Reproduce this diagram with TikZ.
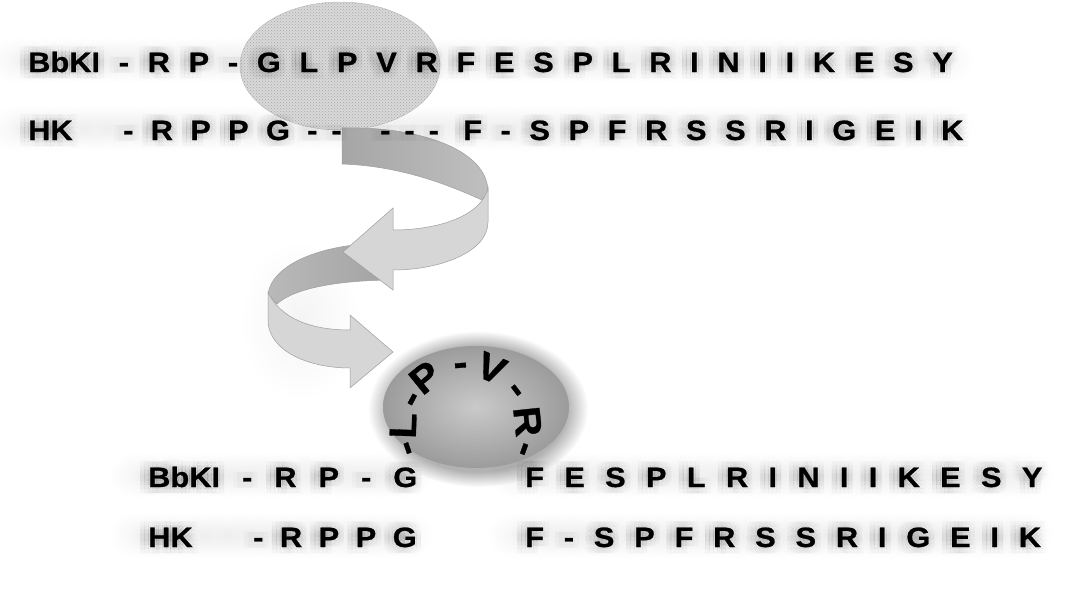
\documentclass[tikz,border=0pt]{standalone}
\usepackage{fontspec}
\setmainfont{Liberation Sans}
\newfontfamily\seqfam{Liberation Sans}[BoldFeatures={FakeStretch=1.1,FakeBold=0.8}]
\usetikzlibrary{patterns,fadings}
\definecolor{ribfr}{gray}{0.84}
\definecolor{ribedge}{gray}{0.62}
\tikzfading[name=softblob, inner color=transparent!15, outer color=transparent!100]
\newcommand\seqfont{\seqfam\fontsize{28}{30}\selectfont\bfseries}
\newcommand\arcfont{\seqfam\fontsize{38}{40}\selectfont\bfseries}
\tikzset{
  seq/.style={anchor=base west, inner sep=0pt, font=\seqfont},
  seqblur/.style={seq, opacity=0.02},
  arcch/.style={inner sep=0pt, font=\arcfont},
  ribback/.style={draw=ribedge, line width=0.5pt},
  ribfront/.style={fill=ribfr, draw=ribedge, line width=0.5pt},
  smudge/.style={black, opacity=0.05, path fading=softblob},
}
% soft grey smudge behind a text row: #1 x start, #2 x end, #3 baseline
\newcommand\rowsmudge[3]{%
  \pgfmathtruncatemacro\nblob{(#2-#1)/22}%
  \foreach \k in {0,...,\nblob}{%
    \fill[smudge] (#1+\k*22-3,#3-12) ellipse [x radius=30, y radius=24];}}
% text row with a blurred shadow: #1 name, #2 x, #3 baseline, #4 gap, #5 text
\newcommand\seqrow[5]{%
  \foreach \dx in {-8,-4,0,4,8}{\foreach \dy in {-6,-2,2,6}{%
    \node[seqblur] (sh#1\dx\dy) at (#2+\dx-2,#3+\dy) {\spaceskip=#4pt\relax #5};}}%
  \node[seq] (#1) at (#2,#3) {\spaceskip=#4pt\relax #5};}
\begin{document}
\begin{tikzpicture}[x=1pt,y=-1pt]
\useasboundingbox (0,0) rectangle (1066,605);
\fill[white] (0,0) rectangle (1066,605);
% soft shadows behind the text rows
\rowsmudge{22}{955}{72}
\rowsmudge{22}{965}{140}
\rowsmudge{142}{420}{487}
\rowsmudge{520}{1040}{487}
\rowsmudge{142}{420}{547}
\rowsmudge{520}{1040}{547}
% top patterned ellipse
\path[fill=gray!30, draw=gray!55] (340,66) ellipse [x radius=100, y radius=64];
\path[pattern=crosshatch dots, pattern color=gray!70] (340,66) ellipse [x radius=100, y radius=64];
% curved right arrow (lower)
\fill[smudge] (300,320) ellipse [x radius=60, y radius=80];
\path[ribback, left color=gray!55, right color=gray!72] (388,243) .. controls (320,243) and (272,265) .. (268,294) -- (277,304) .. controls (292,290) and (330,281) .. (388,280) -- cycle;
\path[ribfront] (268,292) -- (268,322) .. controls (270,352) and (310,368) .. (350,368) -- (350,388) -- (393,352) -- (350,315) -- (350,330) .. controls (310,330) and (280,318) .. (268,292) -- cycle;
% curved left arrow (upper)
\path[ribback, left color=gray!70, right color=gray!50] (342,128) .. controls (420,126) and (488,150) .. (488,192) -- (482,200) .. controls (455,188) and (405,166) .. (342,164) -- cycle;
\path[ribfront] (488,188) -- (488,222) .. controls (488,252) and (440,270) .. (393,270) -- (393,290) -- (343,252) -- (393,208) -- (393,230) .. controls (440,230) and (482,215) .. (488,188) -- cycle;
% bottom shaded ellipse with halo
\fill[black, opacity=0.3, path fading=circle with fuzzy edge 20 percent] (478,409) ellipse [x radius=110, y radius=78];
\shade[inner color=gray!42, outer color=gray!78] (476,407) ellipse [x radius=93, y radius=61];
% text around the ellipse
\foreach \a/\r/\c [count=\i] in {199/58/-, 178/63/L, 152/57/-, 129/65/P, 95/59/-, 67/65/V, 37/59/-, 6/62/R, -20/58/-}
  \node[arcch, rotate=\a-90] (arc\i) at ({466+\r*cos(\a)},{428-\r*sin(\a)}) {\c};
% sequence rows (top)
\seqrow{r1}{28}{72}{18.7}{BbKI - R P - G L P V R F E S P L R I N I I K E S Y}
\seqrow{r2a}{28}{140}{18}{HK}
\seqrow{r2b}{123}{140}{17.3}{- R P P G}
\seqrow{r2d}{307}{140}{14}{- -}
\seqrow{r2e}{380}{140}{14}{- - -}
\seqrow{r2c}{463}{140}{18.6}{F - S P F R S S R I G E I K}
% sequence rows (bottom)
\seqrow{r3a}{148}{487}{22}{BbKI - R P - G}
\seqrow{r3b}{525}{487}{20.3}{F E S P L R I N I I K E S Y}
\seqrow{r4a}{148}{547}{18}{HK}
\seqrow{r4b}{253}{547}{16.5}{- R P P G}
\seqrow{r4c}{525}{547}{19.8}{F - S P F R S S R I G E I K}
\end{tikzpicture}
\end{document}
